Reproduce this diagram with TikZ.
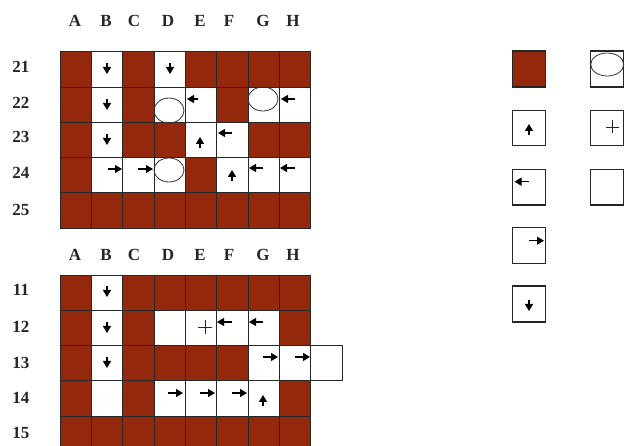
\documentclass[tikz,border=0pt]{standalone}
\usepackage{fontspec}
\setmainfont{Liberation Serif}
\usetikzlibrary{arrows.meta}
\definecolor{brick}{RGB}{148,40,12}
\colorlet{c0}{white}
\colorlet{c1}{brick}
\tikzset{
  cellbox/.style={draw=black!85, line width=0.8pt},
  legbox/.style={draw=black!85, line width=1.3pt},
  arr/.style={line width=1.1pt, -{Triangle[length=7pt,width=8pt]}},
  lab/.style={font=\fontsize{17}{18}\selectfont\bfseries, text=black!85},
  hole/.style={draw=black!80, line width=0.8pt},
  plus/.style={draw=black!85, line width=0.9pt},
}
\begin{document}
\begin{tikzpicture}[x=1pt,y=-1pt]
\useasboundingbox (0,0) rectangle (625,446);
\clip (0,0) rectangle (625,446);
\fill[white] (0,0) rectangle (625,446);
% ---------- top grid (rows 21-25)
\foreach \row [count=\r from 0] in {{1,0,1,0,1,1,1,1},{1,0,1,0,0,1,0,0},{1,0,1,1,0,0,1,1},{1,0,0,0,1,0,0,0},{1,1,1,1,1,1,1,1}}{
  \foreach \v [count=\c from 0] in \row {
    \filldraw[cellbox, fill=c\v] ({60+\c*31.35},{51.7+\r*35.3}) rectangle ++(31.35,35.3);
  }
}
% ---------- bottom grid (rows 11-15)
\foreach \row [count=\r from 0] in {{1,0,1,1,1,1,1,1},{1,0,1,0,0,0,0,1},{1,0,1,1,1,1,0,0},{1,0,1,0,0,0,0,1},{1,1,1,1,1,1,1,1}}{
  \foreach \v [count=\c from 0] in \row {
    \filldraw[cellbox, fill=c\v] ({60+\c*31.35},{275+\r*35.3}) rectangle ++(31.35,35.3);
  }
}
\filldraw[cellbox, fill=white] (310.8,345.6) rectangle ++(31.35,35.3);
% ---------- column letters
\foreach \L/\x in {A/75,B/106,C/134,D/168,E/200,F/229,G/263,H/293}{
  \node[lab] (t\L) at (\x,21) {\L};
  \node[lab] (b\L) at (\x,255) {\L};
}
% ---------- row numbers
\foreach \n/\y in {21/67,22/103,23/137,24/173,25/210,11/290,12/327,13/363,14/398,15/433}{
  \node[lab] (r\n) at (21,\y) {\n};
}
% ---------- top grid symbols
\draw[arr] (107,63) -- (107,74);
\draw[arr] (170,63) -- (170,74);
\draw[arr] (107,99) -- (107,110);
\draw[arr] (107,134) -- (107,145);
\draw[hole] (169,110.5) ellipse [x radius=15, y radius=12.5];
\draw[hole] (263,99) ellipse [x radius=15, y radius=12];
\draw[hole] (169,170) ellipse [x radius=15, y radius=12];
\draw[arr] (198,99) -- (187,99);
\draw[arr] (295,99) -- (281,99);
\draw[arr] (200,148) -- (200,137);
\draw[arr] (232,133) -- (218,133);
\draw[arr] (108,169) -- (122,169);
\draw[arr] (138,169) -- (153,169);
\draw[arr] (232,181) -- (232,170);
\draw[arr] (263,168) -- (249,168);
\draw[arr] (295,168) -- (280,168);
% ---------- bottom grid symbols
\draw[arr] (107,286) -- (107,297);
\draw[arr] (107,322) -- (107,333);
\draw[arr] (107,357) -- (107,368);
\draw[plus] (198,327) -- (212,327) (205,320) -- (205,334);
\draw[arr] (232,322) -- (217,322);
\draw[arr] (263,322) -- (249,322);
\draw[arr] (263,357) -- (278,357);
\draw[arr] (295,357) -- (310,357);
\draw[arr] (168,393) -- (183,393);
\draw[arr] (200,393) -- (215,393);
\draw[arr] (232,393) -- (247,393);
\draw[arr] (263,406) -- (263,395);
% ---------- legend
\filldraw[legbox, fill=brick] (512.7,51) rectangle (545.7,87);
\draw[legbox] (590.7,51) rectangle (623.8,87);
\draw[hole] (607.2,64.5) ellipse [x radius=16.5, y radius=11.5];
\draw[legbox] (512.7,110.7) rectangle (545.7,145.7);
\draw[arr] (529,135) -- (529,124);
\draw[legbox] (590.7,110.7) rectangle (623.8,145.7);
\draw[plus] (606,127) -- (619,127) (612.7,120.5) -- (612.7,133.5);
\draw[legbox] (512.7,169.3) rectangle (545.7,205);
\draw[arr] (529,181.7) -- (514.5,181.7);
\draw[legbox] (590.7,169.3) rectangle (623.8,205);
\draw[legbox] (512.7,227.7) rectangle (545.7,263.3);
\draw[arr] (529,240.7) -- (544,240.7);
\draw[legbox] (512.7,286) rectangle (545.7,322);
\draw[arr] (529,300) -- (529,311);
\end{tikzpicture}
\end{document}
